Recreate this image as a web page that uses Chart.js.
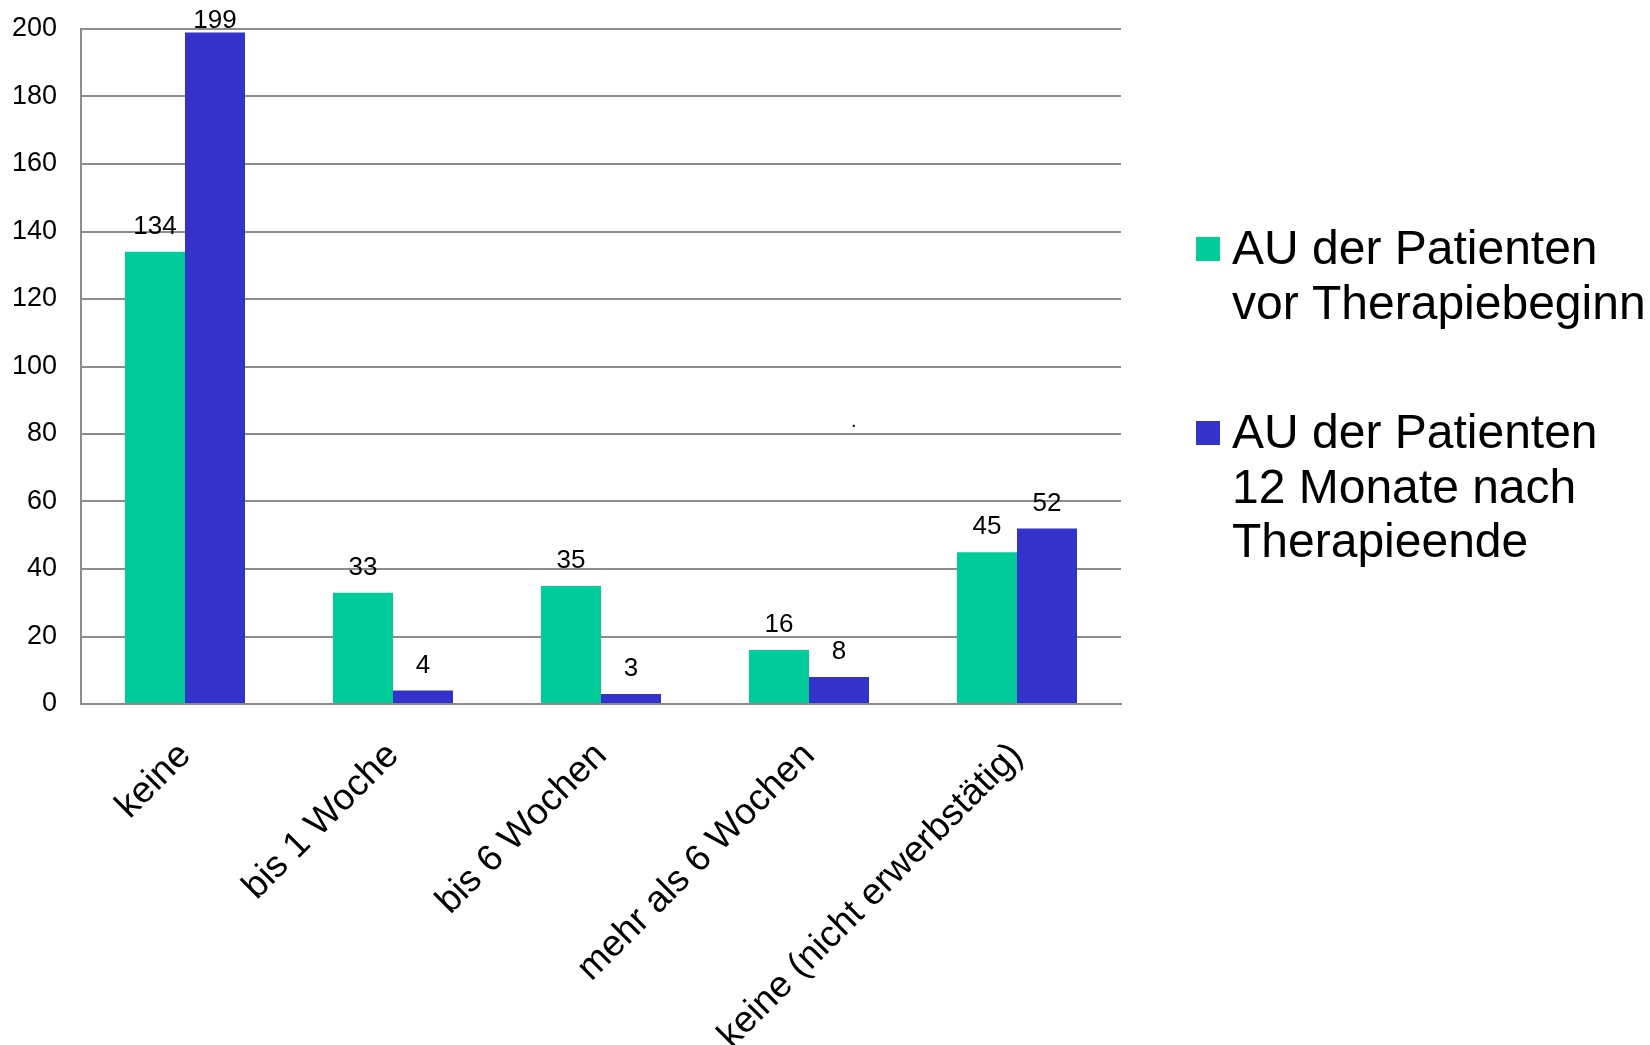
<!DOCTYPE html>
<html>
<head>
<meta charset="utf-8">
<title>AU der Patienten</title>
<script src="https://cdn.jsdelivr.net/npm/chart.js@4.4.1/dist/chart.umd.min.js"></script>
<style>
  html, body { margin: 0; padding: 0; background: #fff; }
  #wrap { width: 1650px; height: 1045px; position: relative; }
</style>
</head>
<body>
<div id="wrap"><canvas id="au-chart"></canvas></div>
<script>
// Categories and patient counts per series
const categories = ["keine", "bis 1 Woche", "bis 6 Wochen", "mehr als 6 Wochen", "keine (nicht erwerbstätig)"]
const beforeTherapy = [134, 33, 35, 16, 45]
const afterTherapy = [199, 4, 3, 8, 52]

const seriesNames = ["AU der Patienten vor Therapiebeginn", "AU der Patienten 12 Monate nach Therapieende"]
const legendLines = [
  ["AU der Patienten", "vor Therapiebeginn"],
  ["AU der Patienten", "12 Monate nach", "Therapieende"],
]
const seriesColors = ["#00cc99", "#3333cc"]

const yMin = 0
const yMax = 200
const yStep = 20

const noteText = "."

const FONT = "'Liberation Sans', Arial, sans-serif"
const GRID = "#8c8c8c"

Chart.defaults.font.family = FONT
Chart.defaults.color = "#000"

// Value printed above each bar
const valueLabels = {
  id: "valueLabels",
  afterDatasetsDraw(chart) {
    const ctx = chart.ctx
    ctx.save()
    ctx.font = "26px " + FONT
    ctx.fillStyle = "#000"
    ctx.textAlign = "center"
    ctx.textBaseline = "alphabetic"
    chart.data.datasets.forEach((ds, di) => {
      chart.getDatasetMeta(di).data.forEach((bar, i) => {
        const y = Math.max(bar.y - 18, 28)
        ctx.fillText(String(ds.data[i]), bar.x, y)
      })
    })
    ctx.restore()
  },
}

// Legend on the right, with wrapped series names
const sideLegend = {
  id: "sideLegend",
  afterDraw(chart) {
    const ctx = chart.ctx
    ctx.save()
    ctx.font = "48px " + FONT
    ctx.textAlign = "left"
    ctx.textBaseline = "alphabetic"
    let baseline = 264
    chart.data.datasets.forEach((ds, di) => {
      ctx.fillStyle = ds.backgroundColor
      ctx.fillRect(1196, baseline - 27, 24, 24)
      ctx.fillStyle = "#000"
      legendLines[di].forEach((line, li) => {
        ctx.fillText(line, 1232, baseline + li * 54.5)
      })
      baseline += 184
    })

    // small mark in the plot
    ctx.font = "20px " + FONT
    ctx.fillText(noteText, 851, 427)
    ctx.restore()
  },
}

const ctx = document.getElementById("au-chart").getContext("2d")

new Chart(ctx, {
  type: "bar",
  data: {
    labels: categories,
    datasets: [
      {
        label: seriesNames[0],
        data: beforeTherapy,
        backgroundColor: seriesColors[0],
        borderWidth: 0,
        categoryPercentage: 0.577,
        barPercentage: 1.0,
      },
      {
        label: seriesNames[1],
        data: afterTherapy,
        backgroundColor: seriesColors[1],
        borderWidth: 0,
        categoryPercentage: 0.577,
        barPercentage: 1.0,
      },
    ],
  },
  options: {
    responsive: true,
    maintainAspectRatio: false,
    animation: false,
    layout: {
      padding: { top: 29, right: 529, left: 0, bottom: 0 },
    },
    plugins: {
      legend: { display: false },
      tooltip: { enabled: false },
    },
    scales: {
      x: {
        grid: { display: false, drawTicks: false },
        border: { display: true, color: GRID, width: 2 },
        ticks: {
          autoSkip: false,
          maxRotation: 45,
          minRotation: 45,
          padding: 30,
          font: { size: 37 },
          color: "#000",
        },
        afterFit(scale) {
          scale.height = 341
        },
      },
      y: {
        min: yMin,
        max: yMax,
        grid: { color: GRID, lineWidth: 2, drawTicks: false },
        border: { display: true, color: GRID, width: 2 },
        ticks: {
          stepSize: yStep,
          padding: 24,
          font: { size: 27 },
          color: "#000",
        },
        afterFit(scale) {
          // fixed axis width; tick padding should not push the plot down
          scale.width = 81
          scale.paddingTop = 0
          scale.paddingBottom = 0
        },
      },
    },
  },
  plugins: [valueLabels, sideLegend],
})
</script>
</body>
</html>
